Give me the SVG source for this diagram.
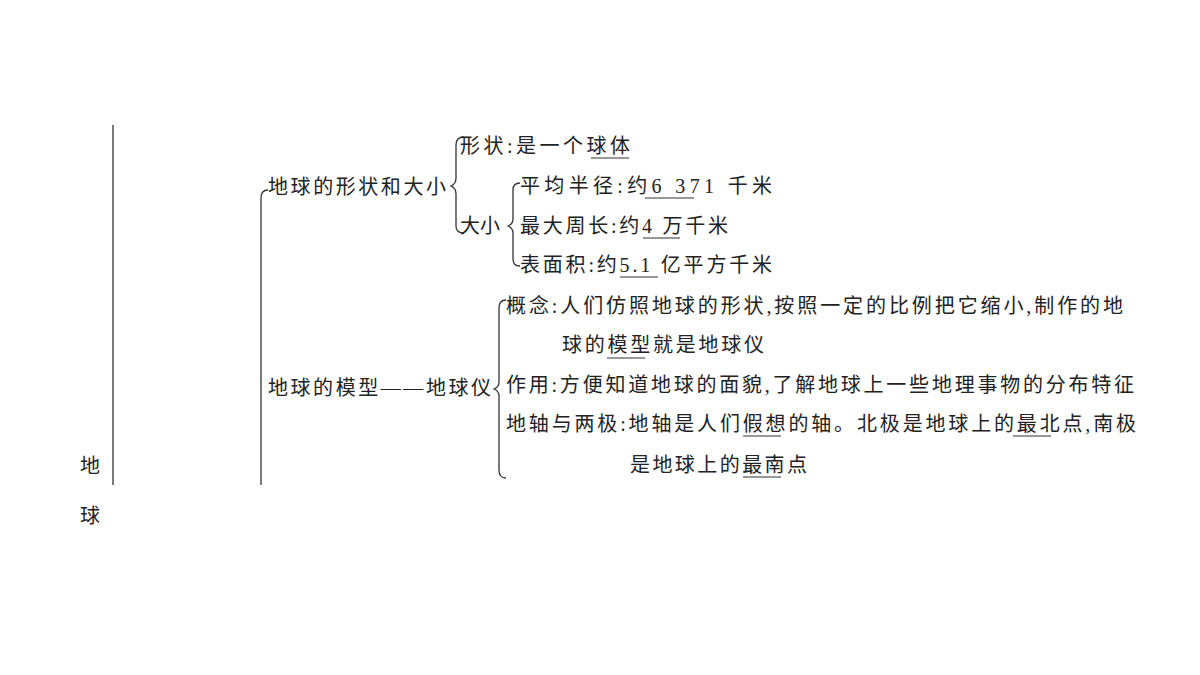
<svg xmlns="http://www.w3.org/2000/svg" width="1200" height="675" viewBox="0 0 1200 675">
<style>
text{font-family:"Liberation Serif","Noto Sans CJK SC",serif;font-size:20px;fill:#222}
.l{stroke:#333;stroke-width:1.3;fill:none}
.u{stroke:#333;stroke-width:1.2}
</style>
<rect width="1200" height="675" fill="#fff"/>
<g id="root">
<path class="l" d="M113 125 V485"/>
<text x="80" y="473" font-size="21">地</text>
<text x="80" y="523" font-size="21">球</text>
</g>
<g id="connectors">
<path class="l" d="M268 190 Q261 190 261 198 V485"/>
<path class="l" d="M464 137 Q456 137 456 145 V178 Q456 184 451 186 Q456 188 456 194 V226 Q456 233 464 233"/>
<path class="l" d="M520 183 Q513 183 513 190 V219 Q513 224 508 226 Q513 228 513 233 V259 Q513 266 520 266"/>
<path class="l" d="M506 300 Q499 300 499 308 V382 Q499 387 494 389 Q499 391 499 396 V470 Q499 478 506 478"/>
</g>
<g id="n1"><text x="268" y="194" textLength="178">地球的形状和大小</text></g>
<g id="n2"><text x="460" y="153" textLength="170">形状:是一个球体</text><line class="u" x1="591" y1="158" x2="629" y2="158"/></g>
<g id="n3"><text x="460" y="233" textLength="40">大小</text></g>
<g id="n4"><text x="520" y="193" textLength="252">平均半径:约6 371 千米</text><line class="u" x1="645" y1="198" x2="694" y2="198"/></g>
<g id="n5"><text x="520" y="233" textLength="208">最大周长:约4 万千米</text><line class="u" x1="643" y1="238" x2="680" y2="238"/></g>
<g id="n6"><text x="520" y="272" textLength="252">表面积:约5.1 亿平方千米</text><line class="u" x1="620" y1="277" x2="658" y2="277"/></g>
<g id="n7"><text x="268" y="395" textLength="223">地球的模型——地球仪</text></g>
<g id="n8"><text x="506" y="313" textLength="617">概念:人们仿照地球的形状,按照一定的比例把它缩小,制作的地</text>
<text x="562" y="352" textLength="202">球的模型就是地球仪</text><line class="u" x1="607" y1="358" x2="645" y2="358"/></g>
<g id="n9"><text x="506" y="392" textLength="628">作用:方便知道地球的面貌,了解地球上一些地理事物的分布特征</text></g>
<g id="n10"><text x="506" y="431" textLength="630">地轴与两极:地轴是人们假想的轴。北极是地球上的最北点,南极</text>
<line class="u" x1="743" y1="436" x2="781" y2="436"/><line class="u" x1="1013" y1="436" x2="1051" y2="436"/>
<text x="630" y="472" textLength="177">是地球上的最南点</text><line class="u" x1="743" y1="477" x2="781" y2="477"/></g>
</svg>
